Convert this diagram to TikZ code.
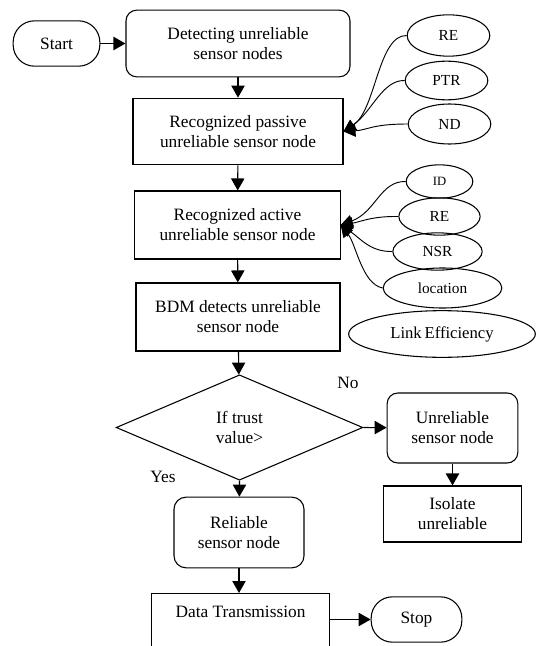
\documentclass[tikz,border=0pt]{standalone}
\usepackage{fontspec}
\setmainfont{Liberation Serif}
\usepackage{tikz}
\usetikzlibrary{shapes,arrows.meta}

\begin{document}
\begin{tikzpicture}[x=0.75pt,y=0.75pt,
  every node/.style={line width=0.8pt, align=center, font=\fontsize{13}{15}\selectfont},
  terminal/.style={draw, rectangle, rounded corners=16pt, minimum width=65pt, minimum height=34pt},
  procbox/.style={draw, rectangle, inner sep=2pt},
  roundbox/.style={procbox, rounded corners=8pt},
  attr/.style={draw, ellipse, inner sep=0pt, font=\fontsize{11.5}{13}\selectfont},
  decision/.style={draw, diamond, inner sep=0pt, minimum width=185pt, minimum height=79pt},
  flow/.style={line width=0.8pt, -{Triangle[length=9pt,width=10pt]}},
  link/.style={line width=0.7pt, -{Triangle[length=9pt,width=9pt]}}]

\clip (0,0) rectangle (536,-646);

% Start and detection
\node[terminal] (start) at (56.5,-43.5) {Start};
\node[roundbox, minimum width=168pt, minimum height=50pt] (detect) at (238,-43.5) {Detecting unreliable\\sensor nodes};

% Passive step
\node[procbox, minimum width=157.5pt, minimum height=50pt] (passive) at (238,-131.5) {Recognized passive\\unreliable sensor node};
\node[attr, minimum width=62pt, minimum height=31pt] (re1) at (448.5,-35.5) {RE};
\node[attr, minimum width=62pt, minimum height=29pt] (ptr) at (446.5,-80.5) {PTR};
\node[attr, minimum width=62pt, minimum height=30pt] (nd) at (449.5,-124) {ND};

% Active step
\node[procbox, minimum width=154pt, minimum height=51pt] (active) at (237.5,-225) {Recognized active\\unreliable sensor node};
\node[attr, minimum width=50pt, minimum height=25pt, font=\fontsize{9.5}{11}\selectfont] (id) at (439.5,-181.5) {ID};
\node[attr, minimum width=61pt, minimum height=28pt] (re2) at (439.5,-216.5) {RE};
\node[attr, minimum width=67pt, minimum height=28pt] (nsr) at (437.5,-251.5) {NSR};
\node[attr, minimum width=89pt, minimum height=30pt] (loc) at (442.5,-288) {location};
\node[attr, minimum width=140pt, minimum height=35pt, font=\fontsize{12.5}{14}\selectfont] (linkeff) at (442,-334) {Link\,Efficiency};

% BDM and decision
\node[procbox, minimum width=153pt, minimum height=51pt] (bdm) at (238,-317) {BDM detects unreliable\\sensor node};
\node[decision] (trust) at (239.5,-427.5) {If trust\\value>};
\node (no) at (348,-383) {No};
\node (yes) at (163,-477) {Yes};

% Outcomes
\node[roundbox, minimum width=98pt, minimum height=52.5pt] (unrel) at (452.5,-428) {Unreliable\\sensor node};
\node[procbox, minimum width=104pt, minimum height=42pt] (isolate) at (452.5,-514) {Isolate\\unreliable};
\node[roundbox, rounded corners=9pt, minimum width=97.5pt, minimum height=53pt] (reliable) at (239,-532.5) {Reliable\\sensor node};
\node[procbox, anchor=north, minimum width=133pt, inner ysep=9pt, text depth=30pt] (data) at (240.5,-593) {Data Transmission};
\node[terminal, minimum width=68pt] (stop) at (416.5,-619.5) {Stop};

% Main flow
\draw[flow] (start) -- (detect);
\draw[flow] (detect) -- (passive);
\draw[flow] (passive) -- (active);
\draw[flow] (active) -- (bdm);
\draw[flow] (bdm) -- (trust);
\draw[flow] (trust.east) -- (unrel);
\draw[flow] (unrel) -- (isolate);
\draw[flow] (trust.south) -- (reliable);
\draw[flow] (reliable.south) -- (reliable.south |- data.north);
\draw[flow] (data.east |- stop) -- (stop);

% Parameter links
\draw[link] (re1.west) .. controls (378,-35) and (376,-110) .. (passive.east);
\draw[link] (ptr.west) .. controls (382,-80) and (372,-112) .. (passive.east);
\draw[link] (nd.west) .. controls (372,-124) and (368,-130) .. (passive.east);
\draw[link] (id.west) .. controls (380,-181) and (376,-212) .. (active.east);
\draw[link] (re2.west) .. controls (372,-216) and (360,-222) .. (active.east);
\draw[link] (nsr.west) .. controls (370,-252) and (360,-238) .. (active.east);
\draw[link] (loc.west) .. controls (362,-284) and (356,-244) .. (active.east);

\end{tikzpicture}
\end{document}
